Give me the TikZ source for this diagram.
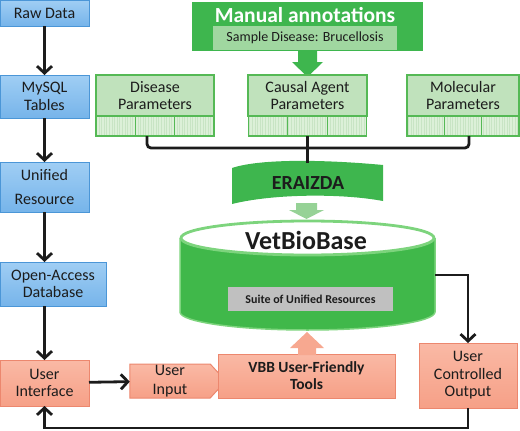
\documentclass[tikz,border=0pt]{standalone}
\usepackage{fontspec}
\setmainfont{Carlito}
\usetikzlibrary{arrows.meta,shapes.symbols,calc}
\definecolor{bluefill}{RGB}{118,180,234}
\definecolor{bluetop}{RGB}{160,206,244}
\definecolor{blueedge}{RGB}{75,150,215}
\definecolor{salfill}{RGB}{246,160,135}
\definecolor{saltop}{RGB}{250,185,165}
\definecolor{saledge}{RGB}{236,135,110}
\definecolor{pgfill}{RGB}{192,226,188}
\definecolor{pgedge}{RGB}{85,185,85}
\definecolor{pgcell}{RGB}{220,240,216}
\definecolor{pggrid}{RGB}{200,228,196}
\definecolor{dgreen}{RGB}{62,182,78}
\definecolor{lgreen}{RGB}{160,215,160}
\definecolor{cylgreen}{RGB}{64,184,74}
\definecolor{cylrim}{RGB}{125,212,125}
\definecolor{suitegray}{RGB}{192,192,192}
\definecolor{arrowgreen}{RGB}{150,210,150}
\definecolor{ink}{RGB}{28,28,28}
\begin{document}
\begin{tikzpicture}[x=1pt,y=-1pt,
  txt/.style={font=\fontsize{16}{17.5}\selectfont, text=ink, align=center},
  bluebox/.style={txt, draw=blueedge, line width=1pt, top color=bluetop, bottom color=bluefill, inner sep=0pt, outer sep=0pt},
  salbox/.style={txt, draw=saledge, line width=1pt, top color=saltop, bottom color=salfill, inner sep=0pt, outer sep=0pt},
  parbox/.style={txt, draw=pgedge, line width=1.2pt, fill=pgfill, inner sep=0pt, outer sep=0pt, minimum height=41pt},
  gridrow/.style={inner sep=0pt, outer sep=0pt, minimum height=20pt},
  flow/.style={draw=ink, line width=2.8pt, -{Straight Barb[length=7pt,width=15pt]}},
  conn/.style={draw=ink, line width=2.8pt, rounded corners=4pt}]
\useasboundingbox (0,0) rectangle (520,431);

% ---------------- left column ----------------
\node[bluebox, minimum width=89pt, minimum height=26pt] (raw) at (44.5,13) {Raw Data};
\node[bluebox, minimum width=89pt, minimum height=43pt] (mysql) at (44.5,96.5) {MySQL\\Tables};
\node[bluebox, minimum width=89pt, minimum height=50pt] (unif) at (44.5,187) {Unified\\[6pt]Resource};
\node[bluebox, minimum width=106pt, minimum height=44pt] (open) at (53,284) {Open-Access\\Database};
\node[salbox, minimum width=89pt, minimum height=46pt] (ui) at (44.5,383) {User\\Interface};

\draw[flow] (raw) -- (mysql);
\draw[flow] (mysql) -- (unif);
\draw[flow] (unif) -- (open.north -| unif.south);
\draw[flow] (open.south -| ui.north) -- (ui);

% ---------------- manual annotations ----------------
\fill[dgreen] (192,2) rectangle (423,51);
\node[font=\fontsize{21.5}{23}\selectfont\bfseries, text=white] (man) at (305,15) {Manual annotations};
\node[fill=lgreen, inner sep=0pt, minimum width=184pt, minimum height=24pt, font=\fontsize{14}{16}\selectfont, text=ink] (sample) at (305,38) {Sample Disease: Brucellosis};
\fill[dgreen] (298,50) -- (298,62) -- (292,62) -- (307.5,77) -- (323,62) -- (317,62) -- (317,50) -- cycle;

% ---------------- parameter boxes ----------------
\node[parbox, minimum width=118pt] (dis) at (155,95.5) {Disease\\Parameters};
\node[parbox, minimum width=119pt] (cau) at (307.5,95.5) {Causal Agent\\Parameters};
\node[parbox, minimum width=112pt] (mol) at (463,95.5) {Molecular\\Parameters};
\foreach \xa/\xb/\nm in {96/214/disg, 248.5/366.5/caug, 407/519/molg}{
  \fill[pgcell] (\xa,116) rectangle (\xb,136);
  \draw[pggrid, line width=0.3pt, step=2.6] (\xa,116) grid (\xb,136);
  \node[gridrow, minimum width={\xb-\xa}] (\nm) at ({(\xa+\xb)/2},126) {};
  \draw[pgedge, line width=1.2pt] (\xa,116) rectangle (\xb,136);
  \draw[pgedge, line width=1.2pt] ({\xa+(\xb-\xa)/3},116) -- ({\xa+(\xb-\xa)/3},136);
  \draw[pgedge, line width=1.2pt] ({\xa+2*(\xb-\xa)/3},116) -- ({\xa+2*(\xb-\xa)/3},136);
}

% ---------------- ERAIZDA banner ----------------
\fill[dgreen] (232,168) .. controls (262,158) and (330,160) .. (383,165) -- (383,201) .. controls (340,193) and (272,194) .. (232,204) -- cycle;
\node[font=\fontsize{20}{22}\selectfont\bfseries, text=ink] (era) at (308,183) {ERAIZDA};
\coordinate (j) at (307.5,148);
\coordinate (eratop) at (307.5,163);
\draw[conn] ([xshift=-8pt]disg.south) |- (j);
\draw[conn] ([xshift=6pt]molg.south) |- (j);
\draw[conn] (caug.south) -- (eratop);
\fill[arrowgreen] (296,203) -- (296,210) -- (289,210) -- (306.5,219) -- (324,210) -- (317,210) -- (317,203) -- cycle;

% ---------------- VetBioBase cylinder ----------------
\fill[cylgreen] (180,238) -- (180,312) arc[start angle=180, end angle=0, x radius=127.5, y radius=18] -- (435,238) -- cycle;
\draw[cylrim, line width=1.5pt] (180,238) -- (180,312) arc[start angle=180, end angle=0, x radius=127.5, y radius=18] -- (435,238);
\draw[cylrim, line width=2.8pt, fill=white] (307.5,238) ellipse[x radius=126.5, y radius=17];
\node[inner sep=0pt, minimum width=255pt, minimum height=110pt] (db) at (307.5,275) {};
\node[font=\fontsize{26}{28}\selectfont\bfseries, text=ink] (vbbname) at (306,240) {VetBioBase};
\node[fill=suitegray, inner sep=0pt, minimum width=165pt, minimum height=24pt, font=\fontsize{12}{14}\selectfont\bfseries, text=ink] (suite) at (310.5,299) {Suite of Unified Resources};

% ---------------- bottom row ----------------
\node[salbox, signal, signal to=east, signal pointer angle=95, minimum width=96pt, minimum height=34pt] (uin) at (170,381) {User\\[2pt]Input};
\node[salbox, minimum width=177pt, minimum height=44pt, font=\fontsize{15.5}{17}\selectfont\bfseries] (vbb) at (306.5,376) {VBB User-Friendly\\Tools};
\fill[salfill!70!saltop] (298,355) -- (298,348) -- (290,348) -- (307,332) -- (324,348) -- (316,348) -- (316,355) -- cycle;
\node[salbox, minimum width=98pt, minimum height=65pt] (uco) at (468,375.5) {User\\Controlled\\Output};

\draw[flow] (ui) -- (uin);
\draw[flow] (db.east) -| (uco.north);
\draw[flow] (uco.south) -- ++(0,20) -| (ui.south);
\end{tikzpicture}
\end{document}
